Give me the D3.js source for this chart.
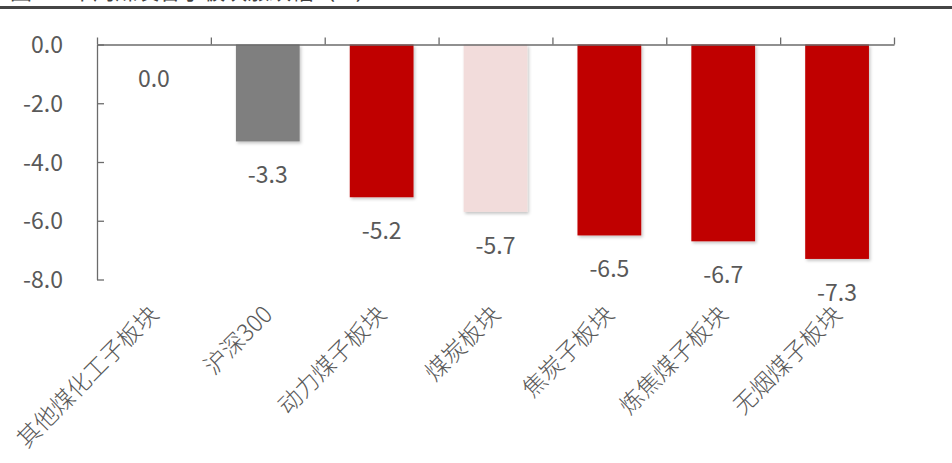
<!DOCTYPE html>
<html>
<head>
<meta charset="utf-8">
<script src="https://cdn.jsdelivr.net/npm/d3@7"></script>
<style>
  html, body { margin: 0; padding: 0; background: #ffffff; }
  svg { display: block; }
  text { font-family: "Noto Sans CJK SC", "Noto Sans", sans-serif; }
</style>
</head>
<body>
<script>
// ---- data ----
const categories = ["其他煤化工子板块", "沪深300", "动力煤子板块", "煤炭板块", "焦炭子板块", "炼焦煤子板块", "无烟煤子板块"];
const values = [0.0, -3.3, -5.2, -5.7, -6.5, -6.7, -7.3];
const yTicks = [0, -2, -4, -6, -8];
const titleText = "图 6：本周煤炭各子板块涨跌幅（%）";
const benchmarkName = "沪深300";
const sectorName = "煤炭板块";

// ---- layout ----
const W = 952, H = 463;
const plot = { left: 97, right: 894, top: 44.5, bottom: 279.5 };

const svg = d3.select("body").append("svg").attr("width", W).attr("height", H);

const defs = svg.append("defs");
const f = defs.append("filter").attr("id", "shadow").attr("x", "-20%").attr("y", "-20%").attr("width", "150%").attr("height", "150%");
f.append("feDropShadow").attr("dx", 1.5).attr("dy", 2).attr("stdDeviation", 1.8).attr("flood-color", "#000").attr("flood-opacity", 0.22);

// title (cut off at top, as in the reference) and rule
svg.append("text").attr("x", 10).attr("y", -1.5).attr("font-size", 22).attr("fill", "#404040").text(titleText);
svg.append("line").attr("x1", 0).attr("x2", W).attr("y1", 7.5).attr("y2", 7.5).attr("stroke", "#454545").attr("stroke-width", 3);

// scales
const x = d3.scaleBand().domain(categories).range([plot.left, plot.right]).paddingInner(0.44).paddingOuter(0.22);
const y = d3.scaleLinear().domain([-8, 0]).range([plot.bottom, plot.top]);
const bounds = d3.scaleLinear().domain([0, categories.length]).range([plot.left, plot.right]);
const color = c => c === benchmarkName ? "#7f7f7f" : (c === sectorName ? "#f2dcdb" : "#c00000");
const fmt = d3.formatLocale({ decimal: ".", thousands: ",", grouping: [3], currency: ["", ""], minus: "-" }).format(".1f");

const axisColor = "#6b6b6b";
const textColor = "#595959";

// bars
svg.append("g").selectAll("rect").data(categories).join("rect")
  .attr("x", d => x(d))
  .attr("width", x.bandwidth())
  .attr("y", (d, i) => y(Math.max(0, values[i])))
  .attr("height", (d, i) => Math.abs(y(values[i]) - y(0)))
  .attr("fill", d => color(d))
  .attr("filter", "url(#shadow)");

// y axis
const yAxis = svg.append("g").attr("transform", `translate(${plot.left},0)`)
  .call(d3.axisLeft(y).tickValues(yTicks).tickFormat(fmt).tickSizeInner(-7).tickSizeOuter(0).tickPadding(34));
yAxis.select(".domain").attr("stroke", axisColor).attr("stroke-width", 1.3);
yAxis.selectAll(".tick line").attr("stroke", axisColor).attr("stroke-width", 1.3);
yAxis.selectAll(".tick text").attr("fill", textColor).attr("font-size", 23)
  .attr("font-family", "\"Noto Sans CJK SC\", sans-serif").attr("dy", "0.35em");

// x axis (category boundaries, ticks upward) at y=0
const xAxis = svg.append("g").attr("transform", `translate(0,${y(0)})`)
  .call(d3.axisTop(bounds).tickValues(d3.range(categories.length + 1)).tickFormat("").tickSizeInner(7).tickSizeOuter(0));
xAxis.select(".domain").attr("stroke", axisColor).attr("stroke-width", 1.3);
xAxis.selectAll(".tick line").attr("stroke", axisColor).attr("stroke-width", 1.3);

// value labels
svg.append("g").selectAll("text").data(categories).join("text")
  .attr("x", d => x(d) + x.bandwidth() / 2)
  .attr("y", (d, i) => y(values[i]) + 42)
  .attr("text-anchor", "middle")
  .attr("font-size", 23)
  .attr("fill", textColor)
  .text((d, i) => fmt(values[i]));

// category labels, rotated
svg.append("g").selectAll("text").data(categories).join("text")
  .attr("transform", d => `translate(${x(d) + x.bandwidth() / 2 + 6},316) rotate(-45)`)
  .attr("text-anchor", "end")
  .attr("font-size", 23.5)
  .attr("font-weight", 300)
  .attr("fill", textColor)
  .text(d => d);
</script>
</body>
</html>
